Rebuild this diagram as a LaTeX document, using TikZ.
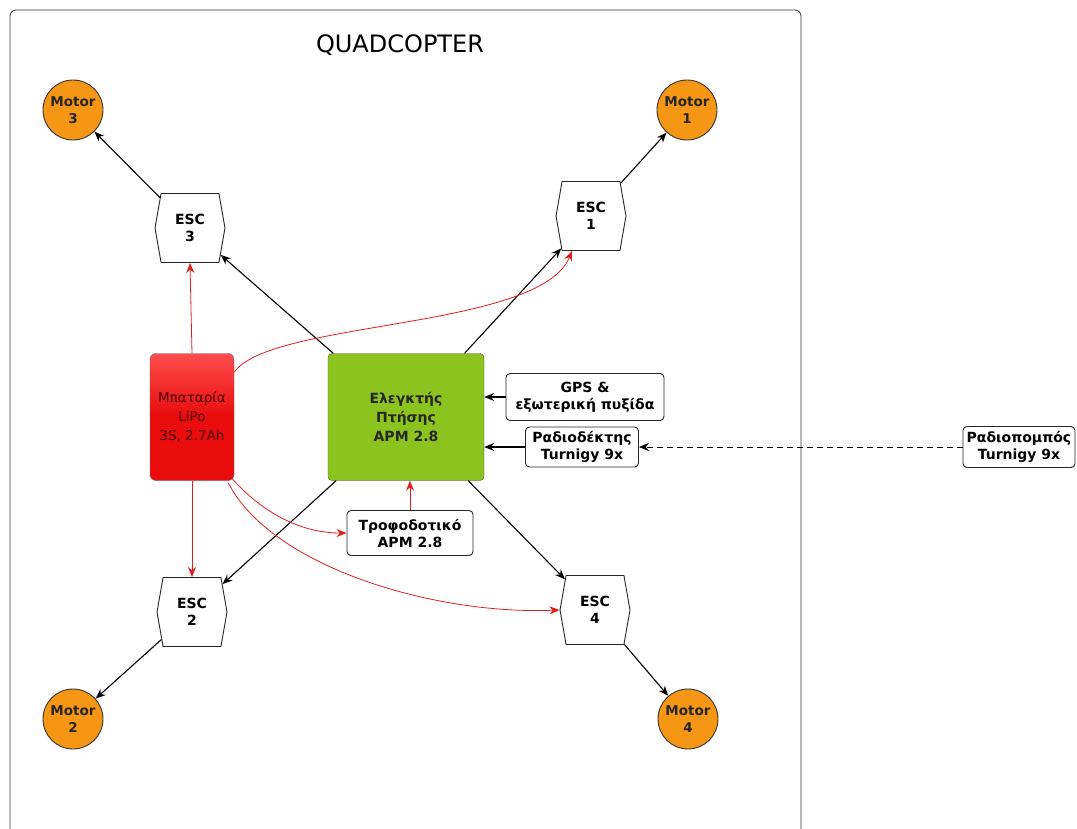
\documentclass[tikz,border=0pt]{standalone}
\usepackage{fontspec}
\setmainfont{DejaVu Sans}
\usetikzlibrary{arrows.meta,positioning,shapes.symbols,calc}
\definecolor{motororange}{RGB}{245,150,20}
\definecolor{fcgreen}{RGB}{140,195,30}
\definecolor{powerred}{RGB}{225,30,30}
\definecolor{batred}{RGB}{232,12,12}

\begin{document}
\begin{tikzpicture}[
      x=1pt, y=-1pt,
      font=\fontsize{14}{17}\selectfont\bfseries,
      motor/.style={circle, draw=black!80, line width=0.9pt, fill=motororange,
                    minimum size=60pt, inner sep=0pt, align=center, text=black!85,
                    font=\fontsize{13.5}{17}\selectfont\bfseries},
      esc/.style={signal, signal to=east and west, signal pointer angle=160,
                  draw=black!85, line width=0.9pt, fill=white, minimum width=70pt,
                  minimum height=69pt, inner sep=0pt, align=center},
      box/.style={draw=black!85, line width=0.9pt, rounded corners=4pt, fill=white,
                  align=center, inner sep=2pt},
      arr/.style={-{Stealth[length=10pt,width=8pt]}, line width=1.1pt},
      parr/.style={-{Stealth[length=10pt,width=8pt]}, line width=0.8pt, powerred}
    ]
    \useasboundingbox (0,0) rectangle (1077,829);
    \draw[line width=0.8pt, black!80, rounded corners=6pt]
      (10,845) -- (10,10) -- (801,10) -- (801,845);
    \node[font=\fontsize{24}{28}\selectfont] (title) at (400,45) {QUADCOPTER};

    % ---- motors ----
    \node[motor] (m3) at (73,110) {Motor\\3};
    \node[motor] (m1) at (687,110) {Motor\\1};
    \node[motor] (m2) at (73,719) {Motor\\2};
    \node[motor] (m4) at (688,719) {Motor\\4};

    % ---- speed controllers ----
    \node[esc] (esc3) at (190,228) {ESC\\3};
    \node[esc] (esc1) at (591,216) {ESC\\1};
    \node[esc] (esc2) at (192,612) {ESC\\2};
    \node[esc] (esc4) at (595,610) {ESC\\4};

    % ---- flight controller and battery ----
    \node[draw=black!70, rounded corners=4pt, fill=fcgreen, minimum width=156pt,
          minimum height=127pt, align=center, text=black!85,
          font=\fontsize{14}{19}\selectfont\bfseries] (fc) at (406,417)
      {Ελεγκτής\\Πτήσης\\APM 2.8};
    \node[draw=black!60, rounded corners=6pt, top color=red!70!white,
          bottom color=batred, middle color=batred, minimum width=84pt,
          minimum height=127pt, align=center, text=black!70!red,
          font=\fontsize{13.5}{19}\selectfont] (bat) at (192,417)
      {Μπαταρία\\LiPo\\3S, 2.7Ah};

    % ---- peripherals ----
    \node[box, minimum width=158pt, minimum height=47pt] (gps) at (585,397)
      {GPS \&\\εξωτερική πυξίδα};
    \node[box, minimum width=113pt, minimum height=40pt] (rx) at (582,447)
      {Ραδιοδέκτης\\Turnigy 9x};
    \node[box, minimum width=112pt, minimum height=41pt] (tx) at (1019,447)
      {Ραδιοπομπός\\Turnigy 9x};
    \node[box, minimum width=126pt, minimum height=45pt] (psu) at (410,533)
      {Τροφοδοτικό\\APM 2.8};

    % ---- signal lines ----
    \draw[arr] (fc) -- (esc3);
    \draw[arr] (fc) -- (esc1);
    \draw[arr] (fc) -- (esc2);
    \draw[arr] (fc) -- (esc4);
    \draw[arr] (esc3) -- (m3);
    \draw[arr] (esc1) -- (m1);
    \draw[arr] (esc2) -- (m2);
    \draw[arr] (esc4) -- (m4);
    \draw[arr] (gps.west) -- (gps.west -| fc.east);
    \draw[arr] (rx.west) -- (rx.west -| fc.east);
    \draw[arr, dash pattern=on 6pt off 4pt, line width=0.9pt] (tx.west) -- (rx.east);

    % ---- power lines ----
    \draw[parr] (bat.north) -- (esc3.south);
    \draw[parr] (bat.south) -- (esc2.north);
    \draw[parr] (psu.north) -- (psu.north |- fc.south);
    \draw[parr] ($(bat.north east)+(0,19)$)
      .. controls (270,320) and (540,330) .. ($(esc1.south)+(-19,0)$);
    \draw[parr] ($(bat.south east)+(-2,-2)$)
      .. controls (262,512) and (300,533) .. (psu.west);
    \draw[parr] ($(bat.south east)+(-6,2)$)
      .. controls (270,565) and (430,615) .. (esc4.west);
  \end{tikzpicture}
\end{document}
